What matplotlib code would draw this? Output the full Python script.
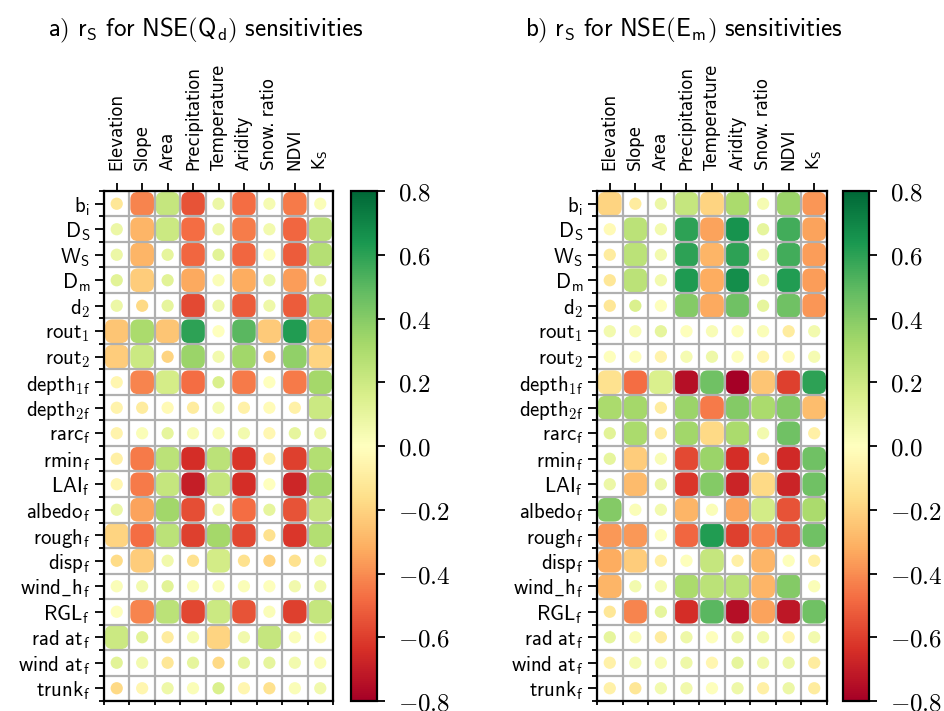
import numpy as np
import matplotlib
matplotlib.use("Agg")
import matplotlib.pyplot as plt
from matplotlib.patches import Circle, FancyBboxPatch
from matplotlib.ticker import FixedLocator, FuncFormatter

plt.rcParams['mathtext.fontset'] = 'cm'

columns = ['Elevation', 'Slope', 'Area', 'Precipitation', 'Temperature',
           'Aridity', 'Snow. ratio', 'NDVI', r'K$_\mathregular{S}$']
rows = [r'b_i', r'D_S', r'W_S', r'D_m', r'd_2', r'rout_1', r'rout_2',
        r'depth_{1f}', r'depth_{2f}', r'rarc_f', r'rmin_f', r'LAI_f',
        r'albedo_f', r'rough_f', r'disp_f', r'wind\_h_f', r'RGL_f',
        r'rad\ at_f', r'wind\ at_f', r'trunk_f']
row_labels = [r'$\mathsf{%s}$' % r for r in rows]

# Spearman correlation, NSE(Qd) sensitivities
r_qd = [
    [-0.12, -0.42, 0.22, -0.55, 0.08, -0.48, 0.04, -0.45, 0.02],
    [0.08, -0.30, 0.20, -0.48, 0.07, -0.44, 0.05, -0.50, 0.25],
    [0.08, -0.30, 0.10, -0.50, 0.12, -0.50, 0.01, -0.52, 0.27],
    [0.12, -0.22, 0.12, -0.33, 0.02, -0.32, 0.07, -0.36, 0.07],
    [0.08, -0.18, 0.10, -0.57, 0.07, -0.52, 0.07, -0.52, 0.30],
    [-0.25, 0.30, -0.25, 0.60, 0.00, 0.50, -0.23, 0.62, -0.27],
    [-0.22, 0.20, -0.20, 0.35, 0.05, 0.33, -0.20, 0.37, -0.20],
    [-0.05, -0.42, 0.17, -0.48, 0.15, -0.45, 0.00, -0.45, 0.32],
    [-0.06, -0.10, -0.03, -0.10, 0.04, -0.07, -0.02, -0.07, 0.20],
    [-0.06, 0.02, 0.10, 0.03, 0.02, 0.05, -0.04, 0.10, 0.06],
    [-0.08, -0.45, 0.25, -0.65, 0.25, -0.63, -0.07, -0.60, 0.28],
    [-0.05, -0.45, 0.22, -0.70, 0.22, -0.65, 0.00, -0.67, 0.32],
    [0.08, -0.35, 0.33, -0.56, 0.05, -0.48, 0.10, -0.55, 0.22],
    [-0.20, -0.48, 0.25, -0.60, 0.32, -0.58, -0.15, -0.62, 0.28],
    [-0.17, -0.22, 0.06, -0.15, 0.18, -0.15, -0.20, -0.15, 0.05],
    [0.02, 0.05, 0.12, 0.02, 0.02, 0.02, 0.01, 0.06, 0.05],
    [0.01, -0.42, 0.25, -0.58, 0.20, -0.55, 0.02, -0.60, 0.22],
    [0.20, 0.12, -0.10, 0.04, -0.20, 0.06, 0.22, 0.02, 0.00],
    [0.12, 0.05, -0.12, 0.10, -0.18, 0.10, 0.10, 0.05, 0.02],
    [-0.18, -0.05, 0.07, 0.02, 0.15, -0.05, -0.15, 0.02, 0.06],
]
sig_qd = [
    [0, 1, 1, 1, 0, 1, 0, 1, 0],
    [0, 1, 1, 1, 0, 1, 0, 1, 1],
    [0, 1, 0, 1, 0, 1, 0, 1, 1],
    [0, 1, 0, 1, 0, 1, 0, 1, 0],
    [0, 0, 0, 1, 0, 1, 0, 1, 1],
    [1, 1, 1, 1, 0, 1, 1, 1, 1],
    [1, 1, 0, 1, 0, 1, 0, 1, 1],
    [0, 1, 1, 1, 0, 1, 0, 1, 1],
    [0, 0, 0, 0, 0, 0, 0, 0, 1],
    [0, 0, 0, 0, 0, 0, 0, 0, 0],
    [0, 1, 1, 1, 1, 1, 0, 1, 1],
    [0, 1, 1, 1, 1, 1, 0, 1, 1],
    [0, 1, 1, 1, 0, 1, 0, 1, 1],
    [1, 1, 1, 1, 1, 1, 0, 1, 1],
    [0, 1, 0, 0, 1, 0, 0, 0, 0],
    [0, 0, 0, 0, 0, 0, 0, 0, 0],
    [0, 1, 1, 1, 1, 1, 0, 1, 1],
    [1, 0, 0, 0, 1, 0, 1, 0, 0],
    [0, 0, 0, 0, 0, 0, 0, 0, 0],
    [0, 0, 0, 0, 0, 0, 0, 0, 0],
]

# Spearman correlation, NSE(Em) sensitivities
r_em = [
    [-0.20, -0.10, 0.08, 0.22, -0.20, 0.30, 0.04, 0.35, -0.38],
    [-0.03, 0.25, 0.05, 0.60, -0.35, 0.65, 0.10, 0.55, -0.35],
    [-0.10, 0.25, 0.05, 0.60, -0.30, 0.60, 0.05, 0.55, -0.36],
    [-0.12, 0.25, 0.05, 0.63, -0.32, 0.67, 0.05, 0.62, -0.36],
    [-0.12, 0.15, 0.01, 0.40, -0.33, 0.45, 0.10, 0.45, -0.38],
    [0.05, 0.03, 0.10, 0.01, 0.03, 0.01, 0.02, -0.10, 0.05],
    [0.01, 0.01, -0.06, 0.04, 0.07, 0.01, -0.05, -0.02, 0.04],
    [-0.15, -0.48, 0.15, -0.75, 0.45, -0.80, -0.25, -0.60, 0.60],
    [0.30, 0.32, -0.10, 0.35, -0.45, 0.40, 0.30, 0.40, -0.27],
    [0.12, 0.30, -0.10, 0.33, -0.18, 0.30, 0.05, 0.45, -0.08],
    [0.10, -0.22, 0.03, -0.57, 0.35, -0.65, -0.15, -0.66, 0.45],
    [0.08, -0.28, 0.08, -0.62, 0.40, -0.68, -0.18, -0.68, 0.45],
    [0.40, 0.02, 0.05, -0.30, 0.02, -0.35, 0.18, -0.55, 0.30],
    [-0.37, -0.37, 0.01, -0.50, 0.62, -0.60, -0.43, -0.55, 0.45],
    [-0.32, -0.22, -0.08, 0.01, 0.22, -0.08, -0.30, 0.01, -0.08],
    [-0.30, 0.05, 0.04, 0.30, 0.25, 0.25, -0.30, 0.40, 0.02],
    [-0.12, -0.42, 0.10, -0.65, 0.50, -0.75, -0.35, -0.72, 0.45],
    [0.10, 0.02, -0.10, 0.07, 0.01, 0.07, 0.05, -0.05, 0.05],
    [-0.07, 0.04, 0.03, 0.07, -0.05, 0.10, 0.06, 0.07, -0.10],
    [-0.07, -0.12, 0.05, 0.06, 0.01, 0.07, -0.08, 0.08, -0.10],
]
sig_em = [
    [1, 0, 0, 1, 1, 1, 0, 1, 1],
    [0, 1, 0, 1, 1, 1, 0, 1, 1],
    [0, 1, 0, 1, 1, 1, 0, 1, 1],
    [0, 1, 0, 1, 1, 1, 0, 1, 1],
    [0, 0, 0, 1, 1, 1, 0, 1, 1],
    [0, 0, 0, 0, 0, 0, 0, 0, 0],
    [0, 0, 0, 0, 0, 0, 0, 0, 0],
    [1, 1, 1, 1, 1, 1, 1, 1, 1],
    [1, 1, 0, 1, 1, 1, 1, 1, 1],
    [0, 1, 0, 1, 1, 1, 0, 1, 0],
    [0, 1, 0, 1, 1, 1, 0, 1, 1],
    [0, 1, 0, 1, 1, 1, 1, 1, 1],
    [1, 0, 0, 1, 0, 1, 1, 1, 1],
    [1, 1, 0, 1, 1, 1, 1, 1, 1],
    [1, 1, 0, 0, 1, 0, 1, 0, 0],
    [1, 0, 0, 1, 1, 1, 1, 1, 0],
    [0, 1, 0, 1, 1, 1, 1, 1, 1],
    [0, 0, 0, 0, 0, 0, 0, 0, 0],
    [0, 0, 0, 0, 0, 0, 0, 0, 0],
    [0, 0, 0, 0, 0, 0, 0, 0, 0],
]

cmap = plt.get_cmap('RdYlGn')
norm = plt.Normalize(-0.8, 0.8)


def bubble_matrix(ax, vals, sig):
    vals = np.asarray(vals)
    sig = np.asarray(sig)
    nrow, ncol = vals.shape
    for i in range(nrow):
        for j in range(ncol):
            col = cmap(norm(vals[i, j]))
            if sig[i, j]:
                # significant: big rounded blob filling the cell
                c = FancyBboxPatch((j - 0.465, i - 0.465), 0.93, 0.93,
                                   boxstyle='round,pad=0,rounding_size=0.3',
                                   facecolor=col, edgecolor='none', zorder=1)
            else:
                c = Circle((j, i), 0.24, facecolor=col, edgecolor='none', zorder=1)
            ax.add_patch(c)
    ax.set_xlim(-0.5, ncol - 0.5)
    ax.set_ylim(nrow - 0.5, -0.5)
    ax.xaxis.set_major_locator(FixedLocator(np.arange(ncol)))
    ax.yaxis.set_major_locator(FixedLocator(np.arange(nrow)))
    ax.xaxis.set_minor_locator(FixedLocator(np.arange(ncol + 1) - 0.5))
    ax.yaxis.set_minor_locator(FixedLocator(np.arange(nrow + 1) - 0.5))
    ax.set_xticklabels(columns, rotation=90, fontsize=12)
    ax.set_yticklabels(row_labels, fontsize=15)
    ax.tick_params(axis='x', which='major', top=True, bottom=False,
                   labeltop=True, labelbottom=False, length=6, width=1.3, pad=9)
    ax.tick_params(axis='x', which='minor', top=False, bottom=True,
                   length=3, width=1.3)
    ax.tick_params(axis='y', which='major', left=True, length=6.5, width=1.3)
    ax.tick_params(axis='y', which='minor', left=True, length=3.5, width=1.3)
    ax.grid(which='minor', color='#b0b0b0', linewidth=1.6, zorder=2)
    ax.set_axisbelow(False)
    for s in ax.spines.values():
        s.set_linewidth(1.6)
        s.set_zorder(3)


def cbar_fmt(v, pos):
    if abs(v) < 1e-9:
        v = 0.0
    return r'$%.1f$' % v


def add_cbar(fig, cax):
    sm = plt.cm.ScalarMappable(norm=norm, cmap=cmap)
    cb = fig.colorbar(sm, cax=cax, ticks=np.arange(-0.8, 0.81, 0.2))
    cb.ax.yaxis.set_major_formatter(FuncFormatter(cbar_fmt))
    cb.ax.tick_params(labelsize=18, length=6, width=1.3, pad=9)
    cb.outline.set_linewidth(1.6)


fig = plt.figure(figsize=(9.44, 7.11), dpi=100)
W, H = 944.0, 711.0
ax_a = fig.add_axes([104 / W, 10 / H, 229 / W, 510 / H])
ax_b = fig.add_axes([597 / W, 10 / H, 230 / W, 510 / H])
cax_a = fig.add_axes([351 / W, 10 / H, 26 / W, 510 / H])
cax_b = fig.add_axes([843 / W, 10 / H, 26 / W, 510 / H])

bubble_matrix(ax_a, r_qd, sig_qd)
bubble_matrix(ax_b, r_em, sig_em)
add_cbar(fig, cax_a)
add_cbar(fig, cax_b)

fig.text(206 / W, 1 - 30 / H, r'$\mathsf{a)\ r_S\ for\ NSE(Q_d)\ sensitivities}$',
         ha='center', va='center', fontsize=18)
fig.text(684 / W, 1 - 30 / H, r'$\mathsf{b)\ r_S\ for\ NSE(E_m)\ sensitivities}$',
         ha='center', va='center', fontsize=18)

fig.savefig('out.png', dpi=100)
